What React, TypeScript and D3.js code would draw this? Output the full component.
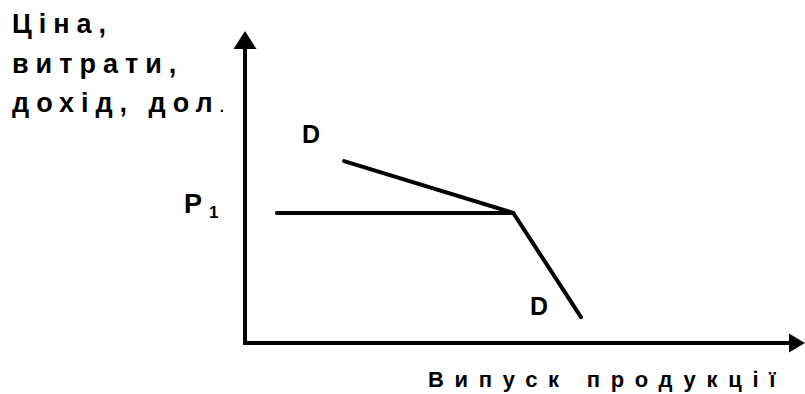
import React from "react";
import * as d3 from "d3";

const W = 805;
const H = 394;

// Kinked demand curve (quantity, price) in abstract units
const demandQ = [17.7, 47.9, 60];
const demandP = [58.3, 41.7, 8.3];
// Price line P1
const priceQ = [5.7, 47.9];
const priceP = [41.7, 41.7];

const yTitleLines = ["Ціна,", "витрати,", "дохід, дол"];
const xTitle = "Випуск продукції";
const priceLabel = "P";
const priceSub = "1";
const demandLabel = "D";

export default function App() {
  const x = d3.scaleLinear().domain([0, 100]).range([245, 805]);
  const y = d3.scaleLinear().domain([0, 100]).range([343, 31]);
  const line = d3
    .line<[number, number]>()
    .x((d) => x(d[0]))
    .y((d) => y(d[1]));

  const demandPts: [number, number][] = demandQ.map((q, i) => [q, demandP[i]]);
  const pricePts: [number, number][] = priceQ.map((q, i) => [q, priceP[i]]);

  const x0 = x(0);
  const y0 = y(0);
  const yTop = y(100);
  const xEnd = x(100);
  const font = "Arial, 'Liberation Sans', sans-serif";
  const baselines = [33, 73, 112];

  return (
    <svg
      width={W}
      height={H}
      style={{ position: "absolute", left: 0, top: 0, background: "#fff" }}
    >
      <rect width={W} height={H} fill="#fff" />
      {/* axes */}
      <line x1={x0} y1={y0} x2={x0} y2={yTop + 16} stroke="#000" strokeWidth={4} />
      <line x1={x0 - 2} y1={y0} x2={xEnd - 14} y2={y0} stroke="#000" strokeWidth={4} />
      <path
        d={`M${x0},${yTop} L${x0 - 11.5},${yTop + 18} L${x0 + 11.5},${yTop + 18} Z`}
        fill="#000"
      />
      <path
        d={`M${xEnd},${y0} L${xEnd - 16},${y0 - 9.5} L${xEnd - 16},${y0 + 9.5} Z`}
        fill="#000"
      />
      {/* curves */}
      <path
        d={line(pricePts) || ""}
        fill="none"
        stroke="#000"
        strokeWidth={4}
        strokeLinecap="round"
      />
      <path
        d={line(demandPts) || ""}
        fill="none"
        stroke="#000"
        strokeWidth={4}
        strokeLinecap="round"
        strokeLinejoin="miter"
      />
      {/* labels */}
      <g fontFamily={font} fontWeight="bold" fill="#000">
        {yTitleLines.map((t, i) => (
          <text key={i} x={12} y={baselines[i]} fontSize={27} letterSpacing={7}>
            {t}
            {i === 2 ? <tspan fontSize={15}>.</tspan> : null}
          </text>
        ))}
        <text x={428} y={387} fontSize={22} letterSpacing={10.7}>
          {xTitle}
        </text>
        <text x={184} y={213} fontSize={27}>
          {priceLabel}
        </text>
        <text x={209} y={218} fontSize={17}>
          {priceSub}
        </text>
        <text x={302} y={143} fontSize={25}>
          {demandLabel}
        </text>
        <text x={530} y={315} fontSize={25}>
          {demandLabel}
        </text>
      </g>
    </svg>
  );
}
